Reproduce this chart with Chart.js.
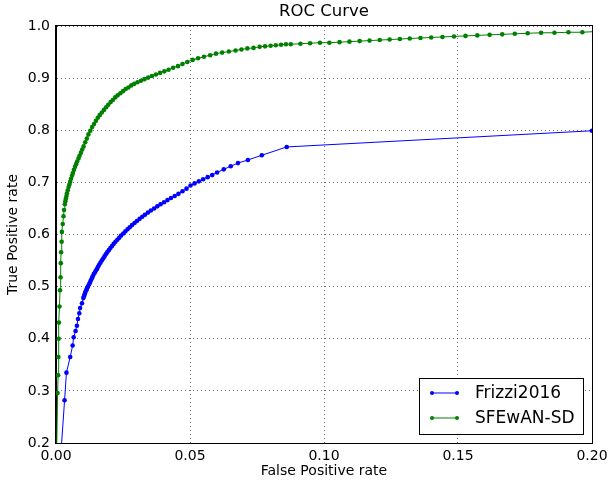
<!DOCTYPE html>
<html>
<head>
<meta charset="utf-8">
<script src="https://cdn.jsdelivr.net/npm/chart.js@4.4.0/dist/chart.umd.min.js"></script>
<style>
  html, body { margin: 0; padding: 0; background: #fff; }
</style>
</head>
<body>
<canvas id="rocChart" width="608" height="485"></canvas>
<script>
// ROC data (false positive rate, true positive rate)
var seriesNames = ['Frizzi2016', 'SFEwAN-SD'];

var frizziFpr = [0.0021, 0.0032, 0.0039, 0.0053, 0.0062, 0.0066, 0.0073, 0.0078, 0.0082, 0.0087,
    0.0090, 0.0097, 0.0102, 0.0104, 0.0106, 0.0108, 0.0110, 0.0113, 0.0115, 0.0118,
    0.0121, 0.0124, 0.0127, 0.0130, 0.0134, 0.0137, 0.0141, 0.0145, 0.0149, 0.0153,
    0.0157, 0.0161, 0.0166, 0.0171, 0.0176, 0.0181, 0.0186, 0.0191, 0.0197, 0.0203,
    0.0209, 0.0215, 0.0222, 0.0229, 0.0236, 0.0243, 0.0251, 0.0259, 0.0267, 0.0275,
    0.0284, 0.0293, 0.0302, 0.0312, 0.0322, 0.0332, 0.0343, 0.0354, 0.0366, 0.0378,
    0.0390, 0.0403, 0.0416, 0.0429, 0.0443, 0.0457, 0.0472, 0.0487, 0.0502, 0.0517,
    0.0533, 0.0549, 0.0566, 0.0583, 0.0601, 0.0626, 0.0652, 0.0679, 0.0716, 0.0768,
    0.0861, 0.2000];
var frizziTpr = [0.200, 0.282, 0.335, 0.365, 0.387, 0.403, 0.415, 0.425, 0.438, 0.449,
    0.459, 0.468, 0.478, 0.481, 0.484, 0.487, 0.490, 0.493, 0.496, 0.499,
    0.502, 0.505, 0.508, 0.512, 0.516, 0.520, 0.524, 0.527, 0.531, 0.534,
    0.538, 0.542, 0.546, 0.550, 0.554, 0.558, 0.562, 0.566, 0.570, 0.574,
    0.578, 0.582, 0.586, 0.590, 0.594, 0.598, 0.602, 0.606, 0.610, 0.614,
    0.618, 0.622, 0.626, 0.630, 0.634, 0.638, 0.642, 0.646, 0.650, 0.654,
    0.658, 0.662, 0.666, 0.670, 0.674, 0.678, 0.683, 0.688, 0.694, 0.698,
    0.702, 0.706, 0.710, 0.714, 0.719, 0.725, 0.731, 0.737, 0.743, 0.752,
    0.768, 0.799];

var sfeFpr = [0.0003, 0.0006, 0.0008, 0.0009, 0.0010, 0.0011, 0.0013, 0.0015, 0.0017, 0.0018,
    0.0019, 0.0021, 0.0022, 0.0025, 0.0028, 0.0030, 0.0033, 0.0035, 0.0037, 0.0039,
    0.0041, 0.0044, 0.0047, 0.0050, 0.0053, 0.0056, 0.0060, 0.0063, 0.0067, 0.0071,
    0.0075, 0.0079, 0.0084, 0.0088, 0.0093, 0.0098, 0.0103, 0.0109, 0.0115, 0.0121,
    0.0128, 0.0135, 0.0142, 0.0149, 0.0156, 0.0163, 0.0171, 0.0179, 0.0187, 0.0195,
    0.0204, 0.0212, 0.0221, 0.0230, 0.0240, 0.0250, 0.0260, 0.0270, 0.0281, 0.0292,
    0.0304, 0.0317, 0.0330, 0.0344, 0.0358, 0.0373, 0.0388, 0.0404, 0.0420, 0.0437,
    0.0455, 0.0472, 0.0490, 0.0510, 0.0530, 0.0552, 0.0575, 0.0597, 0.0620, 0.0645,
    0.0670, 0.0692, 0.0714, 0.0737, 0.0760, 0.0780, 0.0801, 0.0820, 0.0840, 0.0858,
    0.0876, 0.0912, 0.0948, 0.0985, 0.1020, 0.1058, 0.1095, 0.1133, 0.1170, 0.1208,
    0.1245, 0.1283, 0.1320, 0.1360, 0.1400, 0.1442, 0.1485, 0.1528, 0.1572, 0.1618,
    0.1665, 0.1712, 0.1760, 0.1810, 0.1860, 0.1912, 0.1964, 0.2000];
var sfeTpr = [0.200, 0.296, 0.330, 0.365, 0.400, 0.431, 0.462, 0.493, 0.518, 0.545,
    0.566, 0.586, 0.605, 0.620, 0.635, 0.647, 0.658, 0.664, 0.669, 0.674,
    0.679, 0.685, 0.691, 0.696, 0.701, 0.707, 0.713, 0.718, 0.724, 0.730,
    0.735, 0.740, 0.746, 0.751, 0.757, 0.763, 0.769, 0.777, 0.784, 0.792,
    0.799, 0.806, 0.812, 0.818, 0.824, 0.829, 0.834, 0.839, 0.844, 0.849,
    0.854, 0.858, 0.863, 0.867, 0.871, 0.875, 0.879, 0.882, 0.886, 0.889,
    0.892, 0.895, 0.898, 0.901, 0.904, 0.907, 0.910, 0.913, 0.916, 0.920,
    0.923, 0.927, 0.931, 0.935, 0.938, 0.941, 0.944, 0.947, 0.949, 0.951,
    0.953, 0.955, 0.957, 0.958, 0.960, 0.961, 0.962, 0.963, 0.964, 0.965,
    0.965, 0.966, 0.967, 0.968, 0.968, 0.969, 0.970, 0.971, 0.972, 0.973,
    0.974, 0.975, 0.976, 0.977, 0.978, 0.979, 0.980, 0.981, 0.982, 0.983,
    0.984, 0.985, 0.986, 0.987, 0.987, 0.988, 0.988, 0.989];

var xTicks = [0.00, 0.05, 0.10, 0.15, 0.20];
var yTicks = [0.2, 0.3, 0.4, 0.5, 0.6, 0.7, 0.8, 0.9, 1.0];

var FONT = 'DejaVu Sans';

function toPoints(xs, ys) {
    return xs.map(function (x, i) { return { x: x, y: ys[i] }; });
}

// frame, title and legend drawn the matplotlib way
var mplExtras = {
    id: 'mplExtras',
    afterDatasetsDraw: function (chart) {
        var ctx = chart.ctx;
        var a = chart.chartArea;
        ctx.save();
        ctx.strokeStyle = '#000';
        ctx.lineWidth = 1;
        ctx.strokeRect(Math.round(a.left) - 0.5, Math.round(a.top) - 0.5,
            Math.round(a.right - a.left) + 1, Math.round(a.bottom - a.top) + 1);

        // title centred over the axes
        ctx.fillStyle = '#000';
        ctx.font = '16.5px "' + FONT + '"';
        ctx.textAlign = 'center';
        ctx.textBaseline = 'middle';
        ctx.fillText('ROC Curve', (a.left + a.right) / 2, 12);

        // legend box in the lower right
        var w = 164, h = 56;
        var x0 = Math.round(a.right - 9 - w), y0 = Math.round(a.bottom - 9 - h);
        ctx.fillStyle = '#fff';
        ctx.fillRect(x0, y0, w, h);
        ctx.strokeStyle = '#000';
        ctx.strokeRect(x0 + 0.5, y0 + 0.5, w, h);
        chart.data.datasets.forEach(function (ds, i) {
            var cy = y0 + 15 + i * 25;
            ctx.strokeStyle = ds.borderColor;
            ctx.lineWidth = 1;
            ctx.beginPath();
            ctx.moveTo(x0 + 13, cy);
            ctx.lineTo(x0 + 38, cy);
            ctx.stroke();
            ctx.fillStyle = ds.borderColor;
            [x0 + 13, x0 + 38].forEach(function (px) {
                ctx.beginPath();
                ctx.arc(px, cy, 2, 0, Math.PI * 2);
                ctx.fill();
            });
            ctx.fillStyle = '#000';
            ctx.font = '17px "' + FONT + '"';
            ctx.textAlign = 'left';
            ctx.fillText(ds.label, x0 + 56, cy + 1);
        });
        ctx.restore();
    }
};

var gridOpts = { color: 'rgba(0,0,0,0.55)', lineWidth: 1, drawTicks: false };
var borderOpts = { display: true, color: '#000', width: 1, dash: [1, 3] };

function markerSize(last) {
    return function (c) {
        return (c.dataIndex === 0 || (last && c.dataIndex === c.dataset.data.length - 1)) ? 0 : 2.3;
    };
}

new Chart(document.getElementById('rocChart'), {
    type: 'line',
    data: {
        datasets: [{
            label: seriesNames[0],
            data: toPoints(frizziFpr, frizziTpr),
            borderColor: '#0000ff',
            backgroundColor: '#0000ff',
            borderWidth: 1,
            pointRadius: markerSize(false),
            pointBorderWidth: 0,
            tension: 0
        }, {
            label: seriesNames[1],
            data: toPoints(sfeFpr, sfeTpr),
            borderColor: '#008000',
            backgroundColor: '#008000',
            borderWidth: 1,
            pointRadius: markerSize(true),
            pointBorderWidth: 0,
            tension: 0
        }]
    },
    options: {
        responsive: false,
        animation: false,
        layout: { padding: { left: 0, right: 16, top: 26, bottom: 0 } },
        plugins: {
            legend: { display: false },
            title: { display: false },
            tooltip: { enabled: false }
        },
        scales: {
            x: {
                type: 'linear',
                min: 0,
                max: 0.2,
                grid: gridOpts,
                border: borderOpts,
                afterBuildTicks: function (s) { s.ticks = xTicks.map(function (v) { return { value: v }; }); },
                afterFit: function (s) { s.height = 42; s.paddingLeft = 0; s.paddingRight = 0; },
                ticks: {
                    color: '#000',
                    padding: 5,
                    maxRotation: 0,
                    font: { family: FONT, size: 14 },
                    callback: function (v) { return Number(v).toFixed(2); }
                },
                title: {
                    display: true,
                    text: 'False Positive rate',
                    color: '#000',
                    font: { family: FONT, size: 14 },
                    padding: { top: 0, bottom: 5 }
                }
            },
            y: {
                type: 'linear',
                min: 0.2,
                max: 1.0,
                grid: gridOpts,
                border: borderOpts,
                afterBuildTicks: function (s) { s.ticks = yTicks.map(function (v) { return { value: v }; }); },
                afterFit: function (s) { s.width = 56; s.paddingTop = 0; s.paddingBottom = 0; },
                ticks: {
                    color: '#000',
                    padding: 6,
                    font: { family: FONT, size: 14 },
                    callback: function (v) { return Number(v).toFixed(1); }
                },
                title: {
                    display: true,
                    text: 'True Positive rate',
                    color: '#000',
                    font: { family: FONT, size: 14 },
                    padding: { top: 5, bottom: 0 }
                }
            }
        }
    },
    plugins: [mplExtras]
});
</script>
</body>
</html>
